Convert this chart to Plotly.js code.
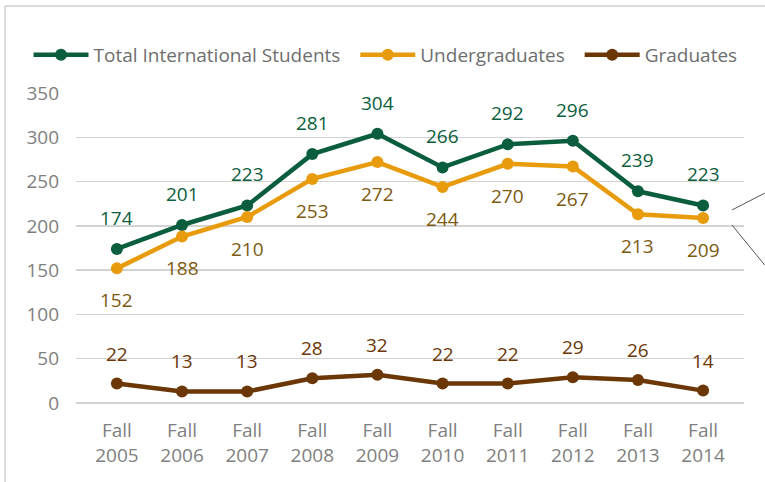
<!DOCTYPE html>
<html><head><meta charset="utf-8">
<script src="https://cdn.plot.ly/plotly-3.0.1.min.js"></script>
<style>html,body{margin:0;padding:0;background:#fff}</style>
</head><body>
<div id="chart" style="width:765px;height:482px"></div>
<script>
const categories = ["Fall<br>2005","Fall<br>2006","Fall<br>2007","Fall<br>2008","Fall<br>2009","Fall<br>2010","Fall<br>2011","Fall<br>2012","Fall<br>2013","Fall<br>2014"];
const totalIntl = [174,201,223,281,304,266,292,296,239,223];
const undergrads = [152,188,210,253,272,244,270,267,213,209];
const graduates = [22,13,13,28,32,22,22,29,26,14];
const yTicks = [0,50,100,150,200,250,300,350];
const seriesNames = ['Total International Students','Undergraduates','Graduates'];

const GREEN = '#0B5E3D', ORANGE = '#E89C0D', BROWN = '#6B3706';
const ORANGE_TXT = '#7D5A0F';
const FONT = '"Open Sans", "Noto Sans", sans-serif';
const PAD = '\u00a0\u00a0';

function mk(name, y, color, pad){
  return {x: categories, y: y, name: name + pad, type:'scatter', mode:'lines+markers',
    line:{color:color, width:4.5}, marker:{color:color, size:12}, hoverinfo:'skip'};
}
const traces = [mk(seriesNames[0], totalIntl, GREEN, PAD),
                mk(seriesNames[1], undergrads, ORANGE, PAD),
                mk(seriesNames[2], graduates, BROWN, '')];

const annotations = [];
function labels(y, color, shift){
  y.forEach((v,i)=>annotations.push({x:categories[i], y:v, xref:'x', yref:'y', text:String(v),
    showarrow:false, yshift:shift, yanchor:'middle', font:{family:FONT, size:19, color:color}}));
}
labels(totalIntl, GREEN, 31);
labels(undergrads, ORANGE_TXT, -32);
labels(graduates, BROWN, 30);

const shapes = [
  {type:'line', xref:'paper', yref:'paper', x0:-0.1063, x1:1.04, y0:1.2806, y1:1.2806, line:{color:'#D0D0D0', width:1.5}},
  {type:'line', xref:'paper', yref:'paper', x0:-0.1063, x1:-0.1063, y0:1.2806, y1:-0.26, line:{color:'#D0D0D0', width:1.5}},
  {type:'line', xref:'paper', yref:'paper', x0:0.982, x1:1.031, y0:0.6226, y1:0.677, line:{color:'#555', width:1}},
  {type:'line', xref:'paper', yref:'paper', x0:0.982, x1:1.031, y0:0.574, y1:0.445, line:{color:'#555', width:1}}
];

const layout = {
  width:765, height:482,
  margin:{l:76, r:21, t:93, b:79},
  paper_bgcolor:'#fff', plot_bgcolor:'#fff',
  font:{family:FONT, color:'#7F7F7F', size:19},
  showlegend:true,
  legend:{orientation:'h', x:-0.0711, xanchor:'left', y:1.123, yanchor:'middle',
    font:{family:FONT, size:19, color:'#6E6E6E'}, itemwidth:55, bgcolor:'rgba(0,0,0,0)'},
  xaxis:{type:'category', showgrid:false, zeroline:false, showline:false, ticks:'',
    ticklabelstandoff:14,
    tickfont:{family:FONT, size:19, color:'#7F7F7F'}, fixedrange:true},
  yaxis:{range:[0,350], tickvals:yTicks, showgrid:true, gridcolor:'#D3D3D3', gridwidth:1.5,
    zeroline:true, zerolinecolor:'#D3D3D3', zerolinewidth:1.5, showline:false, ticks:'',
    ticklabelstandoff:16,
    ticklen:0, tickfont:{family:FONT, size:19, color:'#7F7F7F'}, fixedrange:true},
  annotations: annotations,
  shapes: shapes
};
Plotly.newPlot('chart', traces, layout, {displayModeBar:false, staticPlot:true});
</script>
</body></html>
